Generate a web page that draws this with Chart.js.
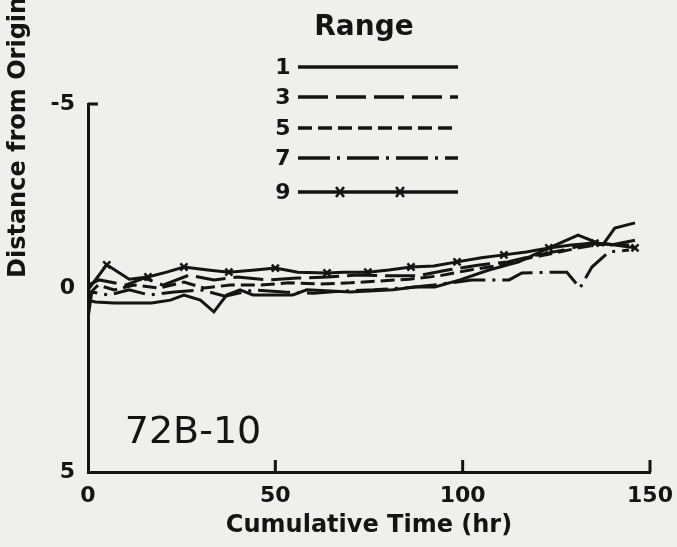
<!DOCTYPE html>
<html>
<head>
<meta charset="utf-8">
<script src="https://cdn.jsdelivr.net/npm/chart.js@4.4.1/dist/chart.umd.min.js"></script>
<style>
  html, body { margin: 0; padding: 0; background: #efefed; }
  #wrap { width: 677px; height: 547px; }
</style>
</head>
<body>
<div id="wrap"><canvas id="drift" width="677" height="547"></canvas></div>
<script>
/* =========================================================
   1. Data  (hr / distance)
========================================================= */
const rangeNames = ['1', '3', '5', '7', '9'];

const t1 = [0, 2, 7, 17, 22, 25.6, 30, 33.6, 37, 40.6, 44, 54.7, 58.4, 70, 81.4, 87.3, 92.6, 99.3, 107, 115, 121.7, 130.8, 137.4, 140.6, 146];
const d1 = [0.33, 0.38, 0.41, 0.41, 0.33, 0.19, 0.33, 0.65, 0.19, 0.05, 0.19, 0.19, 0.05, 0.11, 0.05, -0.03, -0.03, -0.22, -0.49, -0.71, -1.03, -1.44, -1.17, -1.63, -1.77];

const t3 = [0, 3, 10, 15, 20, 27, 33.6, 40, 48, 56, 64, 72, 80, 88, 96, 104, 112, 120, 127, 134, 139.6, 146];
const d3 = [-0.08, -0.22, -0.08, -0.27, -0.08, -0.35, -0.22, -0.3, -0.22, -0.27, -0.3, -0.35, -0.33, -0.33, -0.49, -0.62, -0.71, -0.9, -1.03, -1.22, -1.17, -1.3];

const t5 = [0, 2.7, 7, 12.3, 19, 25.6, 31, 38, 46, 53.6, 61.6, 70, 77.7, 85.7, 93.7, 102, 110, 118, 124.4, 131, 137.7, 144.4];
const d5 = [0.19, -0.08, 0.05, -0.08, 0, -0.16, 0, -0.08, -0.08, -0.14, -0.11, -0.14, -0.19, -0.24, -0.33, -0.49, -0.62, -0.82, -0.95, -1.09, -1.2, -1.17];

const t7 = [0, 1, 5.6, 11, 16.3, 23, 30, 36.6, 44.3, 52.3, 60.3, 68.6, 76.3, 84.3, 92.3, 102.5, 112.4, 115.8, 124.6, 127.8, 131.3, 134.5, 139, 144.4];
const d7 = [0.82, 0.11, 0.19, 0.05, 0.19, 0.11, 0.05, 0.22, 0.05, 0.11, 0.14, 0.08, 0.05, 0, -0.08, -0.22, -0.22, -0.41, -0.43, -0.43, 0, -0.57, -0.98, -1.03];

// every odd point of range 9 carries an x mark
const t9 = [0, 5, 11, 16, 21, 25.6, 32, 37.6, 44.6, 50, 56, 63.8, 68.3, 74.7, 80.3, 86.2, 92.3, 98.5, 105, 111, 117, 123, 129, 135.3, 140.6, 146];
const d9 = [0.05, -0.63, -0.24, -0.3, -0.43, -0.57, -0.49, -0.43, -0.49, -0.54, -0.43, -0.41, -0.43, -0.43, -0.49, -0.57, -0.6, -0.71, -0.82, -0.9, -0.98, -1.09, -1.17, -1.22, -1.17, -1.09];

const xTicks = [0, 50, 100, 150];
const yTicks = [-5, 0, 5];

/* =========================================================
   2. Helpers
========================================================= */
const ink = '#141414';
const pts = (t, d) => t.map((x, i) => ({ x, y: d[i] }));
const dashes = [[], [30, 8], [14, 6], [32, 7, 3, 7], []];
const series = [[t1, d1], [t3, d3], [t5, d5], [t7, d7], [t9, d9]];

// legend, axis titles, inward ticks, sample label
const decor = {
  id: 'decor',
  afterDraw(chart) {
    const { ctx, scales: { x, y } } = chart;
    ctx.save();
    ctx.fillStyle = ink;
    ctx.strokeStyle = ink;

    // inward ticks
    ctx.lineWidth = 3;
    ctx.beginPath();
    xTicks.slice(1).forEach(v => {
      const px = x.getPixelForValue(v);
      ctx.moveTo(px, y.bottom); ctx.lineTo(px, y.bottom - 12);
    });
    ctx.moveTo(x.left, y.getPixelForValue(-5));
    ctx.lineTo(x.left + 10, y.getPixelForValue(-5));
    ctx.stroke();

    // axis titles
    ctx.font = 'bold 24px "DejaVu Sans"';
    ctx.textAlign = 'center';
    ctx.textBaseline = 'middle';
    ctx.fillText('Cumulative Time (hr)', (x.left + x.right) / 2, 526);
    ctx.save();
    ctx.translate(19, 278);
    ctx.rotate(-Math.PI / 2);
    ctx.textAlign = 'left';
    ctx.fillText('Distance from Origin', 0, 0);
    ctx.restore();

    // sample id
    ctx.font = '38px "DejaVu Sans"';
    ctx.fillText('72B-10', 193, 433);

    // legend
    ctx.font = 'bold 28px "DejaVu Sans"';
    ctx.fillText('Range', 364, 28);
    const rows = [67, 97, 128, 158, 192];
    ctx.font = 'bold 22px "DejaVu Sans"';
    chart.data.datasets.forEach((ds, i) => {
      const ry = rows[i];
      ctx.textAlign = 'center';
      ctx.fillText(ds.label, 283, ry + 1);
      ctx.setLineDash(ds.borderDash || []);
      ctx.lineWidth = 3.5;
      ctx.beginPath();
      ctx.moveTo(298, ry); ctx.lineTo(458, ry);
      ctx.stroke();
      ctx.setLineDash([]);
      if (i === 4) {
        ctx.lineWidth = 2.5;
        [340, 400].forEach(mx => {
          ctx.beginPath();
          ctx.moveTo(mx - 4, ry - 5); ctx.lineTo(mx + 4, ry + 5);
          ctx.moveTo(mx + 4, ry - 5); ctx.lineTo(mx - 4, ry + 5);
          ctx.stroke();
        });
      }
    });
    ctx.restore();
  }
};

/* =========================================================
   3. Chart
========================================================= */
new Chart(document.getElementById('drift'), {
  type: 'line',
  data: {
    datasets: series.map(([t, d], i) => ({
      label: rangeNames[i],
      data: pts(t, d),
      borderColor: ink,
      backgroundColor: ink,
      borderWidth: 3,
      borderDash: dashes[i],
      tension: 0,
      pointStyle: 'crossRot',
      pointBorderWidth: 2.5,
      pointRadius: i === 4 ? c => (c.dataIndex % 2 ? 5 : 0) : 0
    }))
  },
  options: {
    responsive: false,
    animation: false,
    events: [],
    layout: { padding: { top: 104, right: 27, left: 0, bottom: 0 } },
    plugins: { legend: { display: false }, tooltip: { enabled: false } },
    scales: {
      x: {
        type: 'linear', min: 0, max: 150,
        afterBuildTicks: s => { s.ticks = xTicks.map(value => ({ value })); },
        afterFit: s => { s.height = 75; },
        grid: { display: false },
        border: { display: true, color: ink, width: 3 },
        ticks: { color: ink, padding: 3, maxRotation: 0, font: { family: 'DejaVu Sans', weight: 'bold', size: 22 } }
      },
      y: {
        min: -5, max: 5, reverse: true,
        afterBuildTicks: s => { s.ticks = yTicks.map(value => ({ value })); },
        afterFit: s => { s.width = 88; },
        grid: { display: false },
        border: { display: true, color: ink, width: 3 },
        ticks: { color: ink, padding: 5, font: { family: 'DejaVu Sans', weight: 'bold', size: 22 } }
      }
    }
  },
  plugins: [decor]
});
</script>
</body>
</html>
